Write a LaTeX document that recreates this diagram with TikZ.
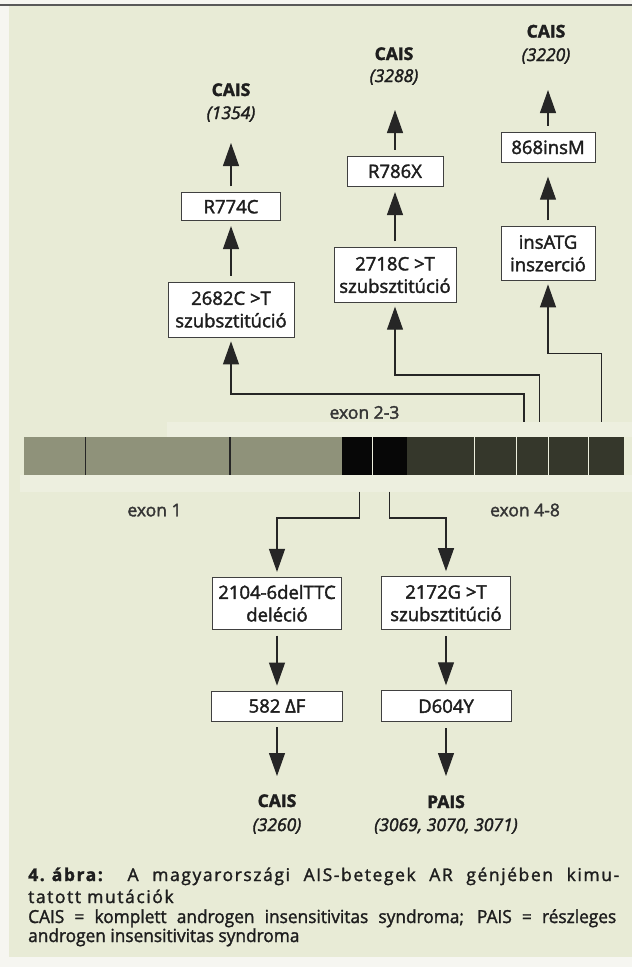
\documentclass[tikz,border=0pt]{standalone}
\usepackage{fontspec}
\setmainfont{Open Sans}[FakeBold=2]
\newfontfamily\capA{Open Sans}[LetterSpace=9,FakeBold=1.6]
\newfontfamily\capB{Open Sans}[FakeStretch=0.96,FakeBold=1.6]
\usetikzlibrary{arrows.meta}
\definecolor{bg}{HTML}{E8EBD6}
\definecolor{band}{HTML}{EDEFDF}
\definecolor{paper}{HTML}{F6F6F1}
\definecolor{exA}{HTML}{8F927A}
\definecolor{exB}{HTML}{070707}
\definecolor{exC}{HTML}{35372B}
\definecolor{ink}{HTML}{1E1E1E}
\tikzset{
  box/.style={draw=black!75, fill=white, line width=0.8pt, inner sep=0pt,
    text=ink, font=\fontsize{18.5}{22.5}\selectfont, align=center},
  conn/.style={line width=1.1pt, draw=black!85,
    -{Triangle[length=23pt,width=16pt]}, shorten >=5pt, shorten <=6pt},
  elbow/.style={line width=1.1pt, draw=black!85,
    -{Triangle[length=23pt,width=16pt]}, shorten >=4pt},
  lblb/.style={anchor=base, inner sep=0pt, text=ink, font=\fontsize{17.5}{20}\selectfont\bfseries},
  lbli/.style={anchor=base, inner sep=0pt, text=ink, font=\fontsize{17.5}{20}\selectfont\itshape},
  exlbl/.style={anchor=base, inner sep=0pt, text=ink!90, font=\fontsize{17.5}{20}\selectfont},
  capline/.style={anchor=base west, inner sep=0pt, text=ink}
}
\begin{document}
\begin{tikzpicture}[x=1pt,y=-1pt]
\useasboundingbox (0,0) rectangle (632,967);
% background
\fill[paper] (0,0) rectangle (632,967);
\fill[bg] (9,6) rectangle (632,957);
\fill[band] (167,421.7) rectangle (632,437);
\fill[band] (20,475) rectangle (632,491.7);
\draw[line width=2pt, black!65] (0,5) -- (632,5);

% gene bar
\fill[exA] (24,437) rectangle (342.3,475);
\fill[exB] (342.3,437) rectangle (407.3,475);
\fill[exC] (407.3,437) rectangle (624,475);
\draw[line width=1.2pt, black!85] (85.3,437) -- (85.3,475) (230,437) -- (230,475);
\draw[line width=0.9pt, bg!80!white] (372.7,437) -- (372.7,475)
  (474,437) -- (474,475) (516.7,437) -- (516.7,475)
  (548.3,437) -- (548.3,475) (588.3,437) -- (588.3,475);

\node[exlbl] (ex23) at (364.5,418.7) {exon 2-3};
\node[exlbl] (ex1) at (154.5,516.3) {exon 1};
\node[exlbl] (ex48) at (525,516.3) {exon 4-8};

% upper boxes
\node[box, minimum width=99pt, minimum height=28pt] (R774C) at (231,206.7) {R774C};
\node[box, minimum width=126pt, minimum height=55pt] (b2682) at (231,309.5) {2682C >T\\szubsztitúció};
\node[box, minimum width=96pt, minimum height=30.7pt] (R786X) at (395,171.3) {R786X};
\node[box, minimum width=122pt, minimum height=54.6pt] (b2718) at (395,275) {2718C >T\\szubsztitúció};
\node[box, minimum width=94pt, minimum height=30pt] (m868) at (548,147.3) {868insM};
\node[box, minimum width=94pt, minimum height=53.3pt] (insATG) at (548,253.3) {insATG\\inszerció};

% top labels
\node[lblb] (c1354) at (231,96) {CAIS};
\node[lbli] (n1354) at (231,119) {(1354)};
\node[lblb] (c3288) at (394,60) {CAIS};
\node[lbli] (n3288) at (394,82) {(3288)};
\node[lblb] (c3220) at (546,37.5) {CAIS};
\node[lbli] (n3220) at (546,61) {(3220)};

\coordinate (t1354) at (231,138);
\coordinate (t3288) at (395,105);
\coordinate (t3220) at (548,85);

\draw[conn] (R774C) -- (t1354);
\draw[conn] (b2682) -- (R774C);
\draw[conn] (R786X) -- (t3288);
\draw[conn] (b2718) -- (R786X);
\draw[conn] (m868) -- (t3220);
\draw[conn, shorten >=14pt] (insATG) -- (m868);

% elbows from gene bar (up)
\coordinate (s1) at (524,421.7);
\coordinate (k1) at (231,394);
\coordinate (s2) at (539.3,421.7);
\coordinate (k2) at (395,375);
\coordinate (s3) at (601.7,421.7);
\coordinate (k3) at (548,353.3);
\draw[elbow] (s1) |- (k1) -- (b2682);
\draw[elbow] (s2) |- (k2) -- (b2718);
\draw[elbow] (s3) |- (k3) -- (insATG);

% lower boxes
\node[box, minimum width=129pt, minimum height=52pt] (b2104) at (277,603.3) {2104-6delTTC\\deléció};
\node[box, minimum width=129pt, minimum height=53.3pt] (b2172) at (446,603.2) {2172G >T\\szubsztitúció};
\node[box, minimum width=131pt, minimum height=30pt] (b582) at (277,706) {582 ΔF};
\node[box, minimum width=130pt, minimum height=31pt] (D604Y) at (446,706.2) {D604Y};

\coordinate (s4) at (359.3,491.7);
\coordinate (k4) at (277,518);
\coordinate (s5) at (389.3,491.7);
\coordinate (k5) at (446,518);
\draw[elbow, shorten >=5pt] (s4) |- (k4) -- (b2104);
\draw[elbow, shorten >=5pt] (s5) |- (k5) -- (b2172);

\node[lblb] (c3260) at (277,807) {CAIS};
\node[lbli] (n3260) at (277,831) {(3260)};
\node[lblb] (pais) at (446,808) {PAIS};
\node[lbli] (npais) at (446,831) {(3069, 3070, 3071)};

\coordinate (t3260) at (277,781);
\coordinate (tpais) at (446,781);
\draw[conn] (b2104) -- (b582);
\draw[conn] (b2172) -- (D604Y);
\draw[conn] (b582) -- (t3260);
\draw[conn] (D604Y) -- (tpais);

% caption
\node[capline, font=\capA\fontsize{17.5}{20}\selectfont] (cap1) at (28,881)
  {\makebox[591pt][s]{\textbf{4.\hspace{7pt}ábra:} A magyarországi AIS-betegek AR génjében kimu-}};
\node[capline, font=\capA\fontsize{17.5}{20}\selectfont] (cap2) at (28,903) {tatott mutációk};
\node[capline, font=\capB\fontsize{18}{20}\selectfont] (cap3) at (28,923)
  {\makebox[588pt][s]{CAIS = komplett androgen insensitivitas syndroma; PAIS = részleges}};
\node[capline, font=\capB\fontsize{18}{20}\selectfont] (cap4) at (28,942) {androgen insensitivitas syndroma};
\end{tikzpicture}
\end{document}
